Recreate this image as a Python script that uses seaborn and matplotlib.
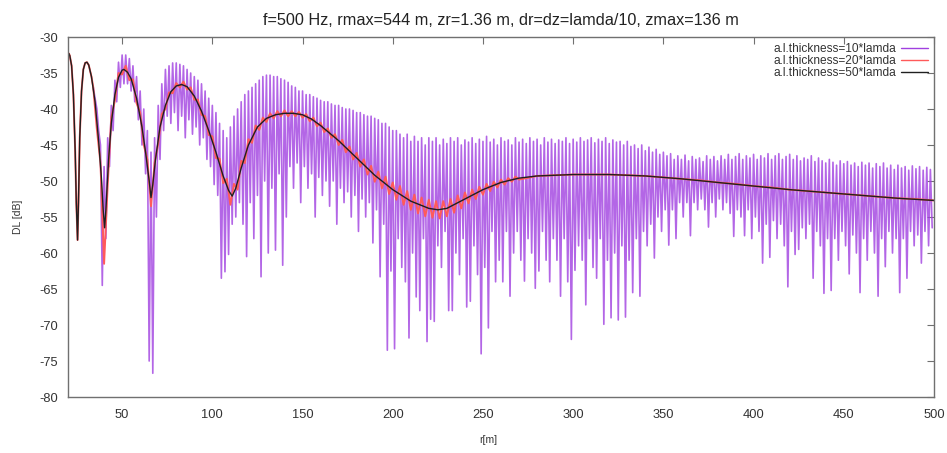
import numpy as np
import pandas as pd
import matplotlib
matplotlib.use("Agg")
import matplotlib.pyplot as plt
import seaborn as sns

# ---------------- data ----------------
title = "f=500 Hz, rmax=544 m, zr=1.36 m, dr=dz=lamda/10, zmax=136 m"
labels = ["a.l.thickness=10*lamda", "a.l.thickness=20*lamda", "a.l.thickness=50*lamda"]
x_ticks = [50, 100, 150, 200, 250, 300, 350, 400, 450, 500]
y_ticks = [-30, -35, -40, -45, -50, -55, -60, -65, -70, -75, -80]

# 50*lamda : smooth curve
black_r = [20, 20.5, 21, 22, 23, 24, 24.6, 25.3, 25.8, 26.5, 27.5, 28.5, 29.5, 30.5, 31.5,
           33, 35, 37, 38.5, 39.5, 40.3, 41, 42.5, 44, 46, 48, 50, 51, 53, 55, 58, 61, 63,
           65, 66, 67, 68.5, 71, 74, 77, 80, 83, 86, 90, 94, 98, 102, 106, 109, 111, 113,
           116, 120, 125, 130, 135, 140, 145, 150, 155, 160, 170, 180, 190, 200, 210, 220,
           225, 230, 240, 250, 260, 270, 280, 300, 320, 340, 360, 380, 400, 420, 440, 460,
           480, 500]
black_db = [-32.6, -32.3, -32.6, -34.0, -38.0, -46.0, -53.0, -58.2, -53.0, -44.0, -37.5, -34.5,
            -33.6, -33.5, -33.9, -35.5, -39.0, -44.5, -49.5, -54.0, -56.5, -54.0, -47.0, -42.0,
            -38.0, -35.6, -34.6, -34.5, -34.9, -35.8, -38.5, -42.5, -46.0, -50.0, -52.3, -50.5,
            -47.0, -42.5, -39.5, -37.6, -36.8, -36.6, -36.9, -38.2, -40.3, -43.0, -46.0, -49.3,
            -51.3, -52.1, -51.0, -48.2, -45.0, -42.5, -41.3, -40.8, -40.6, -40.6, -40.8, -41.4,
            -42.3, -44.4, -46.8, -49.2, -51.2, -52.8, -53.8, -54.0, -53.8, -52.5, -51.2, -50.2,
            -49.6, -49.3, -49.1, -49.1, -49.3, -49.7, -50.2, -50.7, -51.2, -51.6, -52.0, -52.4,
            -52.7]

# 20*lamda : small ripple around the smooth curve (r = 34, 36, ..., 270 then every 10 m)
red_near = [-37.0, -42.8, -47.5, -61.5, -50.5, -41.2, -38.8, -35.0, -35.2, -34.0,
            -36.0, -35.9, -39.2, -40.5, -45.0, -47.0, -53.5, -47.5, -44.8, -40.7,
            -40.0, -37.7, -37.8, -36.4, -37.0, -36.2, -37.3, -37.0, -38.7, -38.7,
            -40.8, -41.0, -43.6, -43.8, -46.8, -46.9, -50.3, -49.7, -53.3, -50.4,
            -51.2, -47.2, -47.5, -44.2, -44.7, -42.3, -42.9, -41.2, -41.8, -40.6,
            -41.3, -40.3, -41.0, -40.2, -41.0, -40.3, -41.0, -40.4, -41.2, -40.7,
            -41.7, -41.2, -42.4, -41.9, -43.2, -42.7, -44.0, -43.5, -45.0, -44.3,
            -46.0, -45.2, -47.0, -46.1, -48.0, -47.0, -49.1, -47.9, -50.1, -48.7,
            -51.0, -49.4, -51.8, -50.2, -52.6, -50.7, -53.3, -51.4, -54.0, -51.9,
            -54.5, -52.3, -54.9, -52.6, -55.1, -52.8, -55.2, -52.8, -54.9, -52.5,
            -54.4, -52.0, -53.8, -51.6, -53.1, -51.2, -52.5, -50.8, -51.9, -50.4,
            -51.4, -50.1, -50.9, -49.8, -50.5, -49.6, -50.1, -49.4, -49.8]
red_far = [-49.3, -49.2, -49.1, -49.1, -49.1, -49.2, -49.3, -49.5, -49.7, -49.9, -50.2,
           -50.4, -50.7, -50.9, -51.2, -51.4, -51.6, -51.8, -52.0, -52.2, -52.4, -52.5, -52.7]

# 10*lamda : strong oscillation, crests at r = 34, 36, ... and troughs at r = 35, 37, ...
purple_crest = [
    -37.0, -40.0, -45.0, -48.0, -44.0, -39.5, -36.0, -33.5, -32.5, -32.5,
    -33.0, -34.0, -35.5, -37.5, -40.0, -43.0, -46.0, -44.0, -39.5, -36.5,
    -34.5, -34.0, -33.6, -33.6, -33.8, -34.0, -34.5, -35.0, -35.5, -36.0,
    -36.5, -37.5, -38.5, -39.5, -40.5, -42.0, -43.0, -44.0, -42.5, -41.0,
    -40.0, -39.0, -38.0, -37.5, -37.0, -36.5, -36.0, -35.5, -35.3, -35.3,
    -35.5, -35.5, -35.8, -36.0, -36.3, -36.8, -37.0, -37.5, -37.5, -38.0,
    -38.0, -38.3, -38.5, -38.8, -39.0, -39.0, -39.3, -39.5, -39.5, -39.8,
    -40.0, -40.0, -40.2, -40.5, -40.5, -40.8, -41.0, -41.0, -41.3, -41.5,
    -42.0, -42.0, -42.5, -43.0, -43.0, -43.5, -44.0, -43.5, -44.5, -43.8,
    -44.5, -44.0, -45.0, -44.0, -44.5, -44.0, -45.0, -44.2, -44.8, -44.0,
    -44.5, -44.0, -45.0, -44.3, -44.6, -44.0, -44.8, -44.2, -44.5, -43.8,
    -44.6, -44.2, -45.0, -44.0, -44.5, -44.3, -45.0, -44.0, -44.6, -44.2,
    -44.8, -44.0, -44.5, -44.2, -45.0, -44.0, -44.6, -44.2, -44.8, -44.3,
    -44.5, -44.0, -44.8, -44.2, -44.6, -44.0, -44.5, -44.3, -44.0, -44.7,
    -44.2, -44.5, -44.0, -44.8, -44.3, -44.6, -44.5, -45.0, -44.5, -45.2,
    -45.0, -45.5, -45.0, -45.8, -45.3, -46.0, -45.6, -46.3, -46.0, -46.5,
    -46.2, -47.0, -46.5, -47.0, -46.4, -47.2, -46.6, -47.0, -46.8, -47.3,
    -46.5, -47.0, -46.6, -47.2, -46.5, -47.0, -46.3, -47.0, -46.6, -46.2,
    -47.0, -46.5, -46.8, -46.3, -47.0, -46.5, -46.8, -46.2, -47.0, -46.5,
    -46.2, -47.0, -46.6, -46.3, -47.0, -46.5, -47.2, -46.8, -47.0, -46.5,
    -47.3, -46.8, -47.2, -47.5, -47.0, -47.4, -47.8, -47.2, -47.6, -47.3,
    -47.8, -47.5, -48.0, -47.4, -47.8, -47.5, -48.2, -47.6, -48.0, -47.5,
    -48.2, -47.8, -48.4, -47.8, -48.2, -48.0, -48.5, -47.9, -48.3, -48.0,
    -48.5, -48.1, -48.4]
purple_trough = [
    -38.5, -43.0, -64.5, -58.0, -48.0, -43.0, -39.0, -37.0, -36.5, -36.5,
    -37.5, -39.0, -41.5, -45.0, -49.0, -75.0, -76.7, -55.0, -47.0, -43.0,
    -41.0, -42.0, -40.5, -43.0, -41.0, -44.0, -41.5, -43.5, -42.5, -45.0,
    -44.0, -47.0, -48.0, -50.5, -52.0, -63.5, -62.6, -60.2, -56.0, -55.0,
    -53.0, -56.0, -60.5, -53.0, -58.0, -52.0, -63.3, -50.0, -60.0, -51.0,
    -59.6, -49.0, -61.7, -55.0, -48.0, -51.0, -47.5, -53.0, -48.0, -51.0,
    -49.0, -55.0, -49.5, -52.0, -50.0, -53.5, -50.0, -56.0, -51.0, -53.0,
    -51.5, -55.0, -52.0, -57.0, -52.5, -55.0, -53.0, -58.6, -54.0, -63.3,
    -56.0, -73.5, -62.5, -73.3, -58.0, -62.0, -64.0, -71.8, -60.0, -66.1,
    -68.0, -58.0, -72.3, -69.2, -69.5, -59.0, -62.0, -57.0, -68.0, -68.0,
    -60.0, -63.0, -58.0, -67.5, -66.7, -59.0, -63.0, -74.0, -62.0, -70.4,
    -57.0, -64.0, -61.0, -64.0, -57.0, -66.0, -60.0, -57.0, -61.0, -63.9,
    -58.0, -60.0, -64.9, -62.5, -57.0, -61.0, -64.0, -58.0, -61.0, -66.0,
    -58.0, -64.0, -72.0, -62.4, -59.0, -61.0, -67.2, -58.0, -62.0, -63.5,
    -58.0, -69.9, -61.0, -69.0, -60.0, -69.3, -59.0, -68.9, -61.0, -65.5,
    -58.0, -66.0, -57.0, -59.0, -56.0, -60.7, -55.0, -57.0, -54.0, -58.9,
    -54.0, -58.0, -53.0, -55.0, -53.0, -57.6, -53.0, -54.0, -52.5, -54.0,
    -56.4, -53.0, -55.0, -52.5, -54.0, -53.0, -54.5, -57.7, -54.0, -55.0,
    -57.6, -54.0, -58.0, -55.0, -57.0, -61.4, -56.0, -60.6, -55.5, -58.0,
    -56.0, -59.0, -64.7, -57.0, -60.2, -59.5, -56.5, -58.0, -56.0, -63.5,
    -57.0, -59.0, -65.6, -58.0, -65.2, -58.0, -61.0, -57.0, -59.0, -62.9,
    -57.5, -60.0, -65.5, -58.0, -61.0, -57.0, -60.0, -66.0, -58.0, -61.9,
    -57.0, -60.0, -58.0, -65.5, -58.0, -63.5, -57.0, -59.0, -57.5, -61.4,
    -57.0, -59.0, -56.5]

# ---------------- assemble tables ----------------
n_p = min(len(purple_crest), len(purple_trough))
p_r, p_db = [], []
for i in range(n_p):
    p_r += [34 + 2 * i, 35 + 2 * i]
    p_db += [purple_crest[i], purple_trough[i]]
df_p = pd.DataFrame({"r": p_r, "DL": p_db})

red_r = list(range(34, 34 + 2 * len(red_near), 2)) + list(range(280, 280 + 10 * len(red_far), 10))
df_red = pd.DataFrame({"r": red_r, "DL": red_near + red_far})
df_red = pd.concat([pd.DataFrame({"r": black_r[:16], "DL": black_db[:16]}), df_red], ignore_index=True)
df_black = pd.DataFrame({"r": black_r, "DL": black_db})

# ---------------- plot ----------------
sns.set_style("white")
plt.rcParams["font.family"] = ["Liberation Sans", "DejaVu Sans"]

fig = plt.figure(figsize=(9.47, 4.53), dpi=100)
ax = fig.add_axes([68 / 947, 1 - 397 / 453, (934 - 68) / 947, (397 - 37) / 453])

c_purple = "#a040e0"
c_red = "#ff5a5a"
c_black = "#202020"

sns.lineplot(data=df_p, x="r", y="DL", sort=False, estimator=None, color=c_purple,
             lw=1.2, alpha=0.8, ax=ax, label=labels[0])
sns.lineplot(data=df_red, x="r", y="DL", sort=False, estimator=None, color=c_red,
             lw=1.4, ax=ax, label=labels[1])
sns.lineplot(data=df_black, x="r", y="DL", sort=False, estimator=None, color=c_black,
             lw=1.0, ax=ax, label=labels[2])

ax.set_xlim(20, 500)
ax.set_ylim(-80, -30)
ax.set_xticks(x_ticks)
ax.set_yticks(y_ticks)
ax.set_xticklabels([str(v) for v in x_ticks])
ax.set_yticklabels([str(v) for v in y_ticks])
ax.tick_params(direction="in", length=5, width=0.8, color="#707070",
               top=True, right=True, labelsize=9.3, labelcolor="#333333", pad=7)
ax.tick_params(axis="x", pad=9)
for s in ax.spines.values():
    s.set_visible(True)
    s.set_color("#707070")
    s.set_linewidth(1.0)

ax.set_xlabel("r[m]", fontsize=7.5, color="#333333")
ax.set_ylabel("DL [dB]", fontsize=7.5, color="#333333")
ax.xaxis.set_label_coords((488 - 68) / (934 - 68), -0.105)
ax.yaxis.set_label_coords(-0.052, 0.5)
ax.set_title(title, fontsize=11.7, color="#222222", pad=9)

leg = ax.legend(loc="upper right", frameon=False, markerfirst=False, fontsize=8.6,
                labelspacing=0.0, handlelength=2.3, handletextpad=0.4,
                borderaxespad=0.2, borderpad=0.3)
for line in leg.get_lines():
    line.set_linewidth(1.0)
    line.set_alpha(1)
for t in leg.get_texts():
    t.set_color("#333333")

fig.savefig("out.png", dpi=100, facecolor="white")
